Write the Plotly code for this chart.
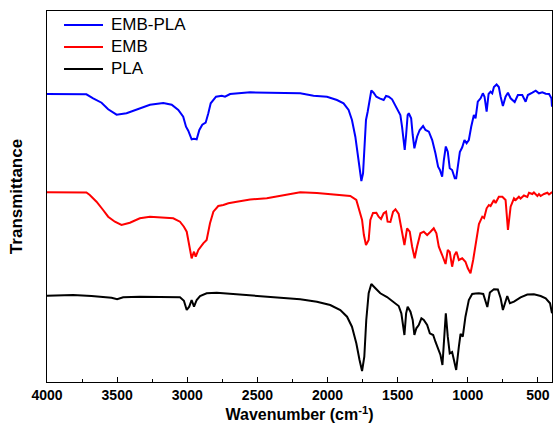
import plotly.graph_objects as go

# FTIR spectra, offset vertically (transmittance in arbitrary units)
series_names = ["EMB-PLA", "EMB", "PLA"]
series_colors = ["#0000ff", "#ff0000", "#000000"]

emb_pla_wn = [4000, 3814, 3719, 3671, 3611, 3564, 3504, 3433, 3361, 3266, 3171, 3111, 3064, 3029,
              3009, 2993, 2969, 2952, 2933, 2914, 2893, 2869, 2850, 2833, 2795, 2754, 2731, 2695,
              2552, 2314, 2195, 2100, 2004, 1933, 1886, 1850, 1826, 1802, 1786, 1772, 1759, 1747,
              1736, 1726, 1714, 1700, 1688, 1672, 1652, 1629, 1600, 1583, 1564, 1540, 1504, 1481,
              1469, 1457, 1450, 1440, 1429, 1421, 1404, 1393, 1381, 1362, 1343, 1319, 1302, 1278,
              1254, 1231, 1212, 1199, 1183, 1171, 1157, 1143, 1129, 1112, 1093, 1083, 1071, 1057,
              1040, 1024, 1009, 993, 976, 957, 945, 929, 909, 893, 881, 866, 852, 838, 826, 814,
              795, 779, 766, 750, 731, 714, 695, 666, 643, 612, 588, 572, 540, 516, 493, 469, 445,
              421, 404, 400]
emb_pla_t = [288, 288, 287.7, 283.7, 279.3, 272.7, 267.3, 268.7, 272.7, 277.3, 279, 277.3, 272, 265.3,
             255.3, 251.3, 242.7, 243.3, 242.7, 252, 257.3, 259.3, 268.7, 278.7, 285.3, 286.3, 285.3, 288,
             289.7, 289.3, 288.7, 286.3, 285.3, 282, 278.7, 272, 262, 245.3, 228.7, 212, 201, 208.7,
             235.3, 262, 270.3, 282, 291.5, 289.3, 285.3, 283.7, 282, 286, 285.3, 282.7, 274, 267,
             255.3, 235.3, 232, 247, 267, 268.7, 263.7, 247, 233.7, 245.3, 252, 256, 252, 250.3,
             242, 228.7, 215.3, 212, 205.3, 222, 235.5, 230.3, 213.7, 212, 203.7, 203.7, 215.3, 230,
             234.7, 242, 238.7, 242, 255.3, 267, 263.7, 280.3, 283.7, 288.7, 285.3, 270.3, 288, 290.3, 288.7, 295,
             297.5, 295, 285.3, 276, 285.3, 289.3, 283.7, 280, 287, 287, 280.3, 287, 289.3, 291.3, 288.7, 289.7, 288.3,
             288, 283.7, 275.3]

emb_wn = [4000, 3814, 3719, 3695, 3647, 3600, 3564, 3516, 3469, 3409, 3338, 3266, 3171, 3100, 3052,
          3024, 3004, 2986, 2969, 2952, 2940, 2921, 2886, 2862, 2838, 2814, 2779, 2743, 2707, 2647,
          2552, 2433, 2314, 2195, 2076, 1933, 1838, 1795, 1772, 1754, 1741, 1726, 1707, 1695, 1676,
          1652, 1636, 1619, 1600, 1583, 1572, 1552, 1533, 1516, 1493, 1469, 1452, 1433, 1414, 1397,
          1379, 1362, 1338, 1314, 1290, 1266, 1243, 1224, 1207, 1183, 1159, 1143, 1129, 1112, 1095,
          1081, 1064, 1040, 1017, 1000, 981, 962, 945, 921, 897, 884, 866, 850, 838, 814, 802, 779,
          754, 731, 714, 695, 671, 659, 636, 624, 600, 576, 564, 540, 529, 504, 493, 481, 457, 433,
          421, 404, 400]
emb_t = [189.7, 189.7, 189.5, 187, 180.3, 172, 165.3, 160.3, 157, 159.3, 163.7, 165.3, 164.7, 163.7, 160.3,
         155.3, 150.3, 135.3, 123.7, 130.3, 125.3, 132, 138.7, 142, 158.7, 170.3, 176, 177, 178.7, 180.3,
         182.5, 183.7, 187, 189.7, 189, 187, 186, 182, 172, 162, 147, 137, 142, 162, 169,
         169.3, 165.3, 163, 168.7, 170.3, 160.3, 160, 170.3, 172.7, 168, 152, 137, 153.7, 150.3, 135.3,
         123.7, 135.3, 148.7, 150.3, 147, 150.3, 153.7, 148.7, 135.3, 127, 118, 132, 130, 115.3, 127,
         130.3, 122, 123.7, 120.3, 113.7, 108.7, 122, 138.7, 158, 165.3, 164, 173.7, 177, 176, 182, 179, 185.3,
         185.3, 182, 152, 175.3, 183.7, 182, 185.3, 183.5, 186.5, 185, 189.3, 188, 189.5, 186, 188, 186, 188, 189.3,
         187.5, 189.3, 188.7]

pla_wn = [4000, 3814, 3683, 3600, 3540, 3500, 3457, 3338, 3100, 3052, 3024, 3004, 2986, 2969, 2952,
          2933, 2909, 2886, 2862, 2790, 2671, 2552, 2433, 2314, 2195, 2076, 1981, 1909, 1861, 1826,
          1795, 1772, 1754, 1738, 1724, 1707, 1688, 1659, 1624, 1576, 1529, 1493, 1474, 1461, 1452,
          1440, 1429, 1409, 1393, 1381, 1367, 1350, 1331, 1314, 1290, 1271, 1247, 1231, 1207, 1195,
          1181, 1171, 1157, 1143, 1129, 1112, 1100, 1083, 1064, 1052, 1036, 1017, 993, 969, 945, 921,
          890, 861, 843, 814, 786, 766, 750, 731, 719, 700, 671, 624, 576, 529, 481, 445, 414, 400]
pla_t = [86.3, 87, 86, 85.3, 84.3, 82.7, 84.7, 85.3, 85.3, 84.7, 81.3, 72, 75.3, 82, 75.3,
         82, 86, 87, 88.7, 89.3, 88, 87, 85.5, 84, 82.7, 80.3, 77, 72, 65.3, 55.3,
         38.7, 22, 11, 25.3, 62, 88.7, 98, 93.7, 88.7, 85, 80.3, 76, 68.7, 53.7, 47,
         68.7, 75.3, 70.3, 62, 47, 53.7, 57, 63.7, 62, 57, 48.7, 47, 40.3, 30.3, 27,
         17, 35.3, 68.7, 45.3, 28.7, 30, 22, 12, 35.3, 48, 45.3, 65.3, 82, 88, 88.5, 88.7,
         88, 75, 89.5, 92.7, 92.5, 83.7, 72, 82, 86, 78.7, 80.3, 84.7, 87.5, 87.7, 86, 83.7, 78.7, 68.7]

series_wn = [emb_pla_wn, emb_wn, pla_wn]
series_t = [emb_pla_t, emb_t, pla_t]

FONT = "Liberation Sans, Arial, sans-serif"

fig = go.Figure()
for name, color, wn, t in zip(series_names, series_colors, series_wn, series_t):
    fig.add_trace(go.Scatter(x=wn, y=t, mode="lines", name=name,
                             line=dict(color=color, width=2), showlegend=False))

# Legend drawn as short line samples with labels in the upper-left corner
legend_rows = [0.9623, 0.9030, 0.8437]
for name, color, yy in zip(series_names, series_colors, legend_rows):
    fig.add_shape(type="line", xref="paper", yref="paper", x0=0.0337, x1=0.1109, y0=yy, y1=yy,
                  line=dict(color=color, width=2))
    fig.add_annotation(xref="paper", yref="paper", x=0.1228, y=yy, text=name, showarrow=False,
                       xanchor="left", yanchor="middle", font=dict(family=FONT, size=17, color="black"))

fig.update_layout(
    width=553, height=434,
    margin=dict(l=47, r=1, t=11, b=52),
    paper_bgcolor="white", plot_bgcolor="white",
    font=dict(family=FONT, color="black"),
)
fig.update_xaxes(
    range=[4000, 400], tickvals=[4000, 3500, 3000, 2500, 2000, 1500, 1000, 500],
    ticks="inside", ticklen=5, tickwidth=1, tickcolor="black",
    minor=dict(tickvals=[3750, 3250, 2750, 2250, 1750, 1250, 750], ticks="inside", ticklen=3,
               tickcolor="black", tickwidth=1),
    showline=True, linecolor="black", linewidth=1, mirror=True, showgrid=False, zeroline=False,
    tickfont=dict(family=FONT, size=14, color="black", weight="bold"),
    title=dict(text="Wavenumber (cm<sup>-1</sup>)", standoff=7,
               font=dict(family=FONT, size=16, color="black", weight="bold")),
)
fig.update_yaxes(
    range=[0, 371], showticklabels=False, ticks="",
    showline=True, linecolor="black", linewidth=1, mirror=True, showgrid=False, zeroline=False,
    title=dict(text="Transmittance", standoff=19,
               font=dict(family=FONT, size=17, color="black", weight="bold")),
)

fig.write_html("out.html")
